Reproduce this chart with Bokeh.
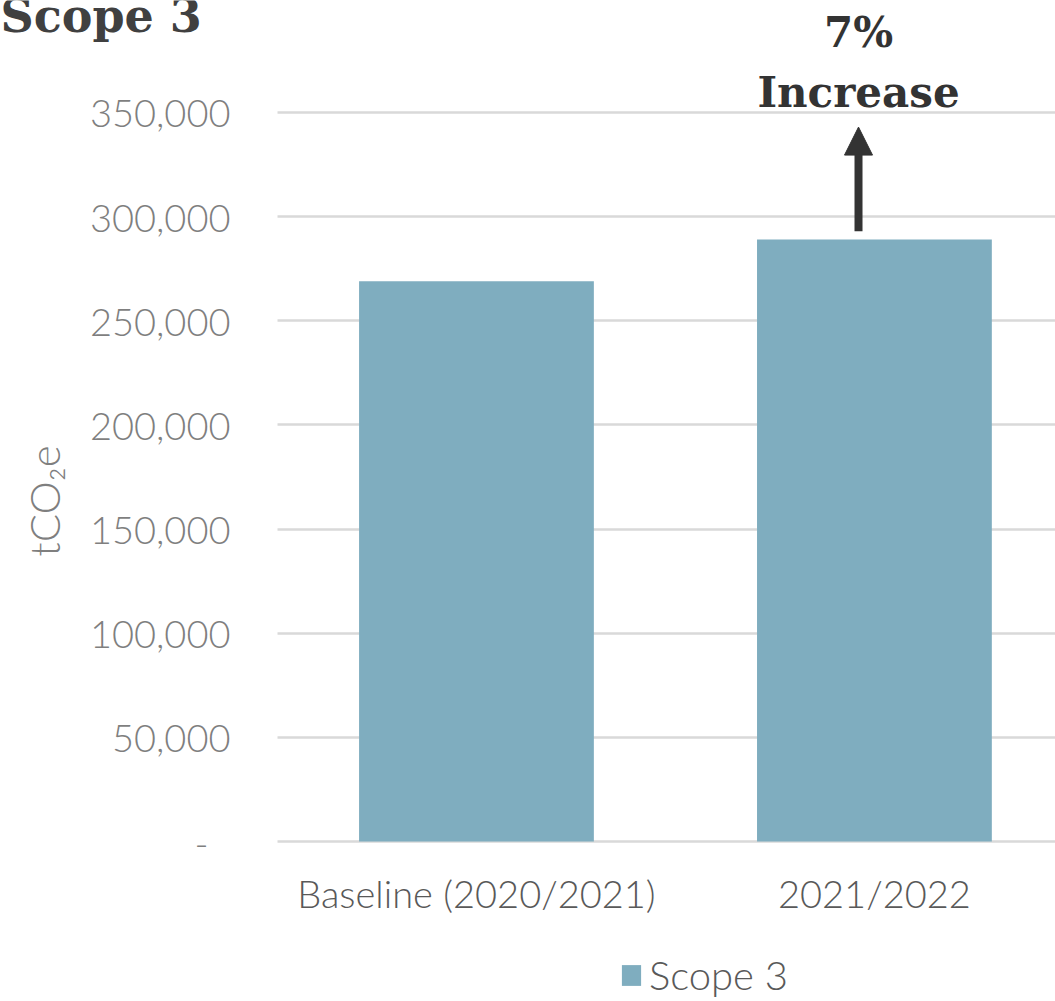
from bokeh.plotting import figure
from bokeh.models import (Range1d, FixedTicker, NumeralTickFormatter, Label, Arrow,
                          NormalHead, Legend, LegendItem, LinearAxis, Grid)
from bokeh.embed import file_html
from bokeh.resources import INLINE

# ---- data ----
categories = ["Baseline (2020/2021)", "2021/2022"]
values = [269000, 289000]
series_name = "Scope 3"
title_text = "Scope 3"
y_ticks = [0, 50000, 100000, 150000, 200000, 250000, 300000, 350000]
annotation_lines = ["7%", "Increase"]
y_label = "tCO\u2082e"

BAR = "#7FADBF"
LIGHT = "Lato Light"
SERIF = "DejaVu Serif"

xs = [i + 0.5 for i in range(len(categories))]

# view window (data units): frame spans the whole canvas
X_START, X_END = -0.696, 1.955
Y_START, Y_END = -76800, 403770

p = figure(width=1055, height=1001, output_backend="svg", toolbar_location=None,
           x_range=Range1d(X_START, X_END), y_range=Range1d(Y_START, Y_END),
           x_axis_location=None, y_axis_location=None,
           min_border_left=0, min_border_right=0, min_border_top=0, min_border_bottom=0)
p.outline_line_color = None
for g in list(p.grid):
    g.visible = False

# grid
has_cross = "cross_bounds" in Grid.properties()
ygrid = Grid(dimension=1, ticker=FixedTicker(ticks=y_ticks),
             grid_line_color="#d9d9d9", grid_line_width=2.5)
if has_cross:
    ygrid.cross_bounds = (0, X_END)
    p.add_layout(ygrid)
else:
    p.segment(x0=[0] * len(y_ticks), x1=[X_END] * len(y_ticks), y0=y_ticks, y1=y_ticks,
              line_color="#d9d9d9", line_width=2.5)

r = p.vbar(x=xs, top=values, width=0.59, fill_color=BAR, line_color=None)

# y axis fixed at x = 0
yax = LinearAxis(fixed_location=0, ticker=FixedTicker(ticks=y_ticks),
                 formatter=NumeralTickFormatter(format="0,0"))
yax.major_label_overrides = {0: "-\u2007"}
yax.axis_line_color = None
yax.major_tick_line_color = None
yax.minor_tick_line_color = None
yax.major_tick_out = 0
yax.major_tick_in = 0
yax.major_label_text_font = LIGHT
yax.major_label_text_font_size = "38px"
yax.major_label_text_color = "#7f7f7f"
yax.major_label_standoff = 47
yax.axis_label = y_label
yax.axis_label_text_font = LIGHT
yax.axis_label_text_font_size = "42px"
yax.axis_label_text_font_style = "normal"
yax.axis_label_text_color = "#7f7f7f"
yax.axis_label_standoff = 18
p.add_layout(yax, "left")

# x axis fixed at y = 0
xax = LinearAxis(fixed_location=0, ticker=FixedTicker(ticks=xs))
xax.major_label_overrides = {x: c for x, c in zip(xs, categories)}
xax.axis_line_color = None
xax.major_tick_line_color = None
xax.minor_tick_line_color = None
xax.major_tick_out = 0
xax.major_tick_in = 0
xax.major_label_text_font = LIGHT
xax.major_label_text_font_size = "38px"
xax.major_label_text_color = "#595959"
xax.major_label_standoff = 28
p.add_layout(xax, "below")

# title
p.add_layout(Label(x=X_START, y=396100, text=title_text, text_font=SERIF,
                   text_font_style="bold", text_font_size="46px", text_color="#404040",
                   text_baseline="alphabetic", text_align="left"))

# annotation
ax_pos = 1.46
p.add_layout(Label(x=ax_pos, y=388400, text=annotation_lines[0], text_font=SERIF,
                   text_font_style="bold", text_font_size="42px", text_color="#333333",
                   text_align="center", text_baseline="alphabetic"))
p.add_layout(Label(x=ax_pos, y=359600, text=annotation_lines[1], text_font=SERIF,
                   text_font_style="bold", text_font_size="42px", text_color="#333333",
                   text_align="center", text_baseline="alphabetic"))
p.add_layout(Arrow(x_start=ax_pos, y_start=values[1] + 4000, x_end=ax_pos, y_end=343000,
                   line_width=8, line_color="#333333",
                   end=NormalHead(size=28, fill_color="#333333", line_color="#333333")))

# legend
legend = Legend(items=[LegendItem(label=series_name, renderers=[r])],
                location=(619, 2), orientation="horizontal",
                padding=0, margin=0, border_line_color=None, background_fill_alpha=0,
                glyph_width=24, glyph_height=26, label_standoff=6,
                label_text_font=LIGHT, label_text_font_size="40px",
                label_text_color="#595959")
p.add_layout(legend, "center")

open("out.html", "w").write(file_html(p, INLINE))
